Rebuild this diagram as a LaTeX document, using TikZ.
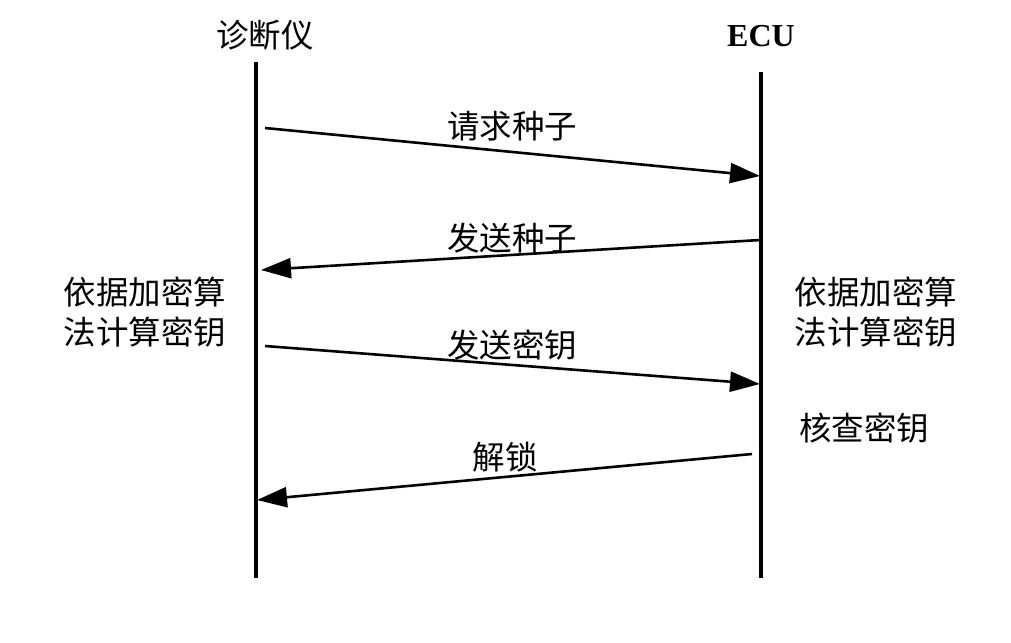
\documentclass[tikz,border=0pt]{standalone}
\usepackage{fontspec}
\setmainfont{Liberation Serif}
\newfontfamily\cjk{Noto Sans CJK SC}
\usetikzlibrary{arrows.meta}
\begin{document}
\begin{tikzpicture}[x=1pt,y=-1pt,
  lifeline/.style={line width=4pt},
  msg/.style={line width=2.6pt,-{Triangle[length=30pt,width=20pt]}},
  lbl/.style={font=\cjk\fontsize{32.5}{40}\selectfont,inner sep=0pt},
  note/.style={font=\cjk\fontsize{32.5}{40}\selectfont,inner sep=0pt,align=left}]
\useasboundingbox (0,0) rectangle (1011,642);
% headers
\node[lbl] (diag) at (265,35) {诊断仪};
\node[font=\bfseries\fontsize{32}{36}\selectfont,inner sep=0pt] (ecu) at (761,36) {ECU};
% lifelines
\coordinate (Ltop) at (256,62);
\coordinate (Lbot) at (256,578);
\coordinate (Rtop) at (761,72);
\coordinate (Rbot) at (761,578);
\draw[lifeline] (Ltop) -- (Lbot);
\draw[lifeline] (Rtop) -- (Rbot);
% message end points
\coordinate (m1s) at (265,128);  \coordinate (m1e) at (760,176);
\coordinate (m2s) at (760,240);  \coordinate (m2e) at (261,270);
\coordinate (m3s) at (265,346);  \coordinate (m3e) at (760,384);
\coordinate (m4s) at (752,454);  \coordinate (m4e) at (257,500);
\draw[msg] (m1s) -- (m1e);
\draw[msg] (m2s) -- (m2e);
\draw[msg] (m3s) -- (m3e);
\draw[msg] (m4s) -- (m4e);
% message labels
\node[lbl] (l1) at (512,126) {请求种子};
\node[lbl] (l2) at (512,238) {发送种子};
\node[lbl] (l3) at (512,345) {发送密钥};
\node[lbl] (l4) at (505,457) {解锁};
% side notes
\node[note] (leftnote) at (145,312) {依据加密算\\法计算密钥};
\node[note] (rightnote) at (876,312) {依据加密算\\法计算密钥};
\node[lbl] (check) at (864,428) {核查密钥};
\end{tikzpicture}
\end{document}
